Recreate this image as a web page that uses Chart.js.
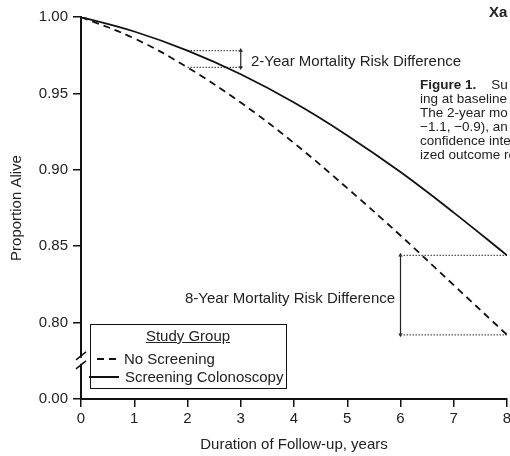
<!DOCTYPE html>
<html>
<head>
<meta charset="utf-8">
<script src="https://cdn.jsdelivr.net/npm/chart.js@4/dist/chart.umd.min.js"></script>
<style>
  body { margin: 0; background: #fff; }
  #wrap { position: relative; width: 510px; height: 456px; overflow: hidden; background: #fff;
          font-family: "Liberation Sans", Arial, sans-serif; color: #222; }
  #c { position: absolute; left: 0; top: 0; }
  .t { position: absolute; white-space: nowrap; font-size: 15px; line-height: 18px; }
  .cap { position: absolute; left: 420px; top: 78px; font-size: 13.5px; line-height: 14px; white-space: nowrap; }
  #legend { position: absolute; left: 90px; top: 324px; width: 197px; height: 65px;
            box-sizing: border-box; border: 1.5px solid #111; background: #fff; }
  .seg { position: absolute; height: 2px; background: #111; }
</style>
</head>
<body>
<div id="wrap">
  <canvas id="c" width="560" height="456"></canvas>

  <div class="t" style="left:489px;top:3px;font-weight:bold;">Xa</div>
  <div class="cap">
    <b>Figure 1.</b>&nbsp;&nbsp;&nbsp; Su<br>
    ing at baseline<br>
    The 2-year mo<br>
    &minus;1.1, &minus;0.9), an<br>
    confidence inte<br>
    ized outcome re
  </div>

  <div class="t" style="left:251px;top:52px;">2-Year Mortality Risk Difference</div>
  <div class="t" style="left:185px;top:289px;">8-Year Mortality Risk Difference</div>

  <div id="legend"></div>
  <div class="t" style="left:140px;top:327px;width:96px;text-align:center;text-decoration:underline;">Study Group</div>
  <div class="seg" style="left:97px;top:358px;width:7px;"></div>
  <div class="seg" style="left:109px;top:358px;width:7px;"></div>
  <div class="t" style="left:124px;top:350px;">No Screening</div>
  <div class="seg" style="left:89px;top:376px;width:30px;"></div>
  <div class="t" style="left:125px;top:368px;">Screening Colonoscopy</div>
</div>

<script>
// follow-up years and proportion alive
const years = [0, 1, 2, 3, 4, 5, 6, 7, 8];
const noScreening = [1.000, 0.986, 0.967, 0.944, 0.9175, 0.888, 0.857, 0.8245, 0.792];
const screening   = [1.000, 0.9905, 0.978, 0.9625, 0.944, 0.9225, 0.8985, 0.872, 0.844];

// risk difference brackets: [from year, to year], arrow year
const bracket2 = [2, 3];
const arrow2 = 3;
const bracket8 = [6, 8];
const arrow8 = 6;

const yTicks = [0.75, 0.80, 0.85, 0.90, 0.95, 1.00];
const yTickLabels = ['0.00', '0.80', '0.85', '0.90', '0.95', '1.00'];

const ink = '#111';
Chart.defaults.font.family = '"Liberation Sans", Arial, sans-serif';
Chart.defaults.font.size = 15;
Chart.defaults.color = '#222';

function pts(xs, ys) {
  return xs.map((x, i) => ({ x: x, y: ys[i] }));
}

function guide(xs, y) {
  return {
    data: [{ x: xs[0], y: y }, { x: xs[1], y: y }],
    borderColor: '#555', borderWidth: 1.2, borderDash: [1.5, 1.5],
    pointRadius: 0, fill: false
  };
}

function arrow(x, y1, y2) {
  return {
    data: [{ x: x, y: y1 }, { x: x, y: y2 }],
    borderColor: '#222', borderWidth: 1.2,
    pointStyle: 'triangle', pointRadius: 2.5, pointRotation: [0, 180],
    pointBackgroundColor: '#222', pointBorderColor: '#222', pointBorderWidth: 0,
    fill: false
  };
}

// axis break between 0.80 and 0.00
const axisBreak = {
  id: 'axisBreak',
  afterDraw(chart) {
    const ctx = chart.ctx;
    const x = chart.chartArea.left;
    const ys = chart.scales.y;
    const y = (ys.getPixelForValue(0.80) + ys.getPixelForValue(0.75)) / 2;
    ctx.save();
    ctx.fillStyle = '#fff';
    ctx.fillRect(x - 3, y - 3, 6, 6);
    ctx.strokeStyle = ink;
    ctx.lineWidth = 1.5;
    ctx.beginPath();
    ctx.moveTo(x - 5, y - 1); ctx.lineTo(x + 5, y - 9);
    ctx.moveTo(x - 5, y + 8); ctx.lineTo(x + 5, y);
    ctx.stroke();
    ctx.restore();
  }
};

new Chart(document.getElementById('c'), {
  type: 'line',
  data: {
    datasets: [
      {
        label: 'No Screening',
        data: pts(years, noScreening),
        borderColor: ink, borderWidth: 1.8, borderDash: [7, 5],
        pointRadius: 0, tension: 0.4, fill: false
      },
      {
        label: 'Screening Colonoscopy',
        data: pts(years, screening),
        borderColor: ink, borderWidth: 1.8,
        pointRadius: 0, tension: 0.4, fill: false
      },
      guide(bracket2, screening[2]),
      guide(bracket2, noScreening[2]),
      guide(bracket8, screening[8]),
      guide(bracket8, noScreening[8]),
      arrow(arrow2, screening[2], noScreening[2]),
      arrow(arrow8, screening[8], noScreening[8])
    ]
  },
  options: {
    responsive: false,
    animation: false,
    devicePixelRatio: 1,
    layout: { padding: { left: 0, top: 17, right: 53, bottom: 0 } },
    plugins: { legend: { display: false }, tooltip: { enabled: false } },
    scales: {
      x: {
        type: 'linear', min: 0, max: 8,
        afterFit: s => { s.height = 57; },
        ticks: { stepSize: 1, padding: 3, maxRotation: 0 },
        grid: { drawOnChartArea: false, tickLength: 8, color: ink, lineWidth: 1.5 },
        border: { color: ink, width: 2 },
        title: { display: true, text: 'Duration of Follow-up, years', padding: { top: 0, bottom: 2 } }
      },
      y: {
        type: 'linear', min: 0.75, max: 1.0,
        afterFit: s => { s.width = 81; },
        afterBuildTicks: s => { s.ticks = yTicks.map(v => ({ value: v })); },
        ticks: {
          padding: 5,
          callback: v => yTickLabels[yTicks.findIndex(t => Math.abs(t - v) < 1e-6)]
        },
        grid: { drawOnChartArea: false, tickLength: 8, color: ink, lineWidth: 1.5 },
        border: { color: ink, width: 2 },
        title: { display: true, text: 'Proportion Alive', padding: { top: 8, bottom: 0 } }
      }
    }
  },
  plugins: [axisBreak]
});
</script>
</body>
</html>
